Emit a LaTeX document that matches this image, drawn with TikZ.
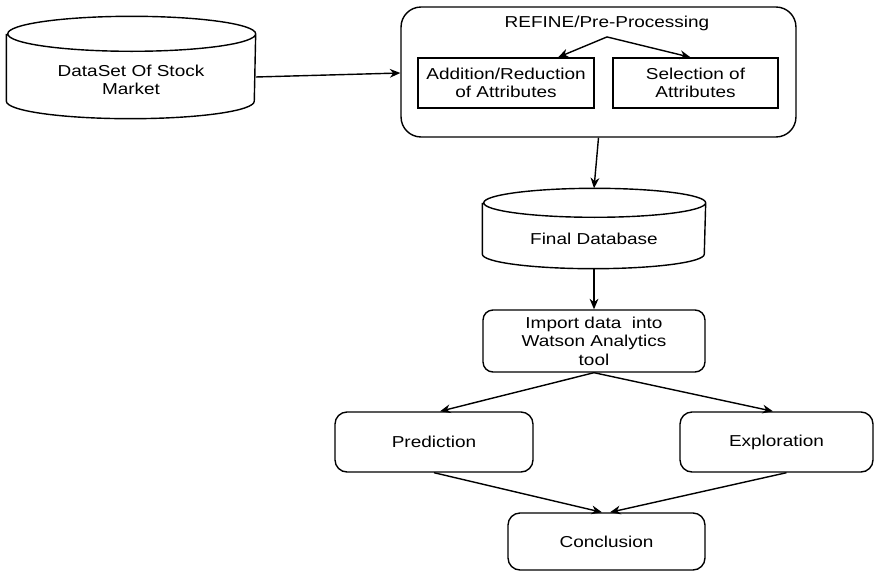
\documentclass[tikz,border=0pt]{standalone}
\usepackage{fontspec}
\setmainfont[FakeStretch=1.2]{Liberation Sans}
\usepackage{tikz}
\usetikzlibrary{arrows.meta, positioning}

% database drum drawn round an empty node: name, x radius, cap radius
\newcommand{\drumshape}[3]{%
  \draw ([yshift=-#3]#1.north west) -- ([yshift=#3]#1.south west)
    arc[start angle=180, end angle=360, x radius=#2, y radius=#3]
    -- ([yshift=-#3]#1.north east)
    arc[start angle=0, end angle=360, x radius=#2, y radius=#3];
}

\begin{document}
\begin{tikzpicture}[x=0.02cm, y=-0.02cm, line width=0.8pt,
  every node/.style={font=\fontsize{9}{10.5}\selectfont, align=center},
  drum/.style={rectangle, inner sep=0pt},
  plainbox/.style={draw, rectangle, minimum height=1cm},
  stagebox/.style={draw, rectangle, rounded corners=0.24cm, minimum height=1.2cm},
  flow/.style={-{Stealth[length=6pt, width=5pt]}}]
  \useasboundingbox (0,0) rectangle (876,571);

  % input data and the refine stage
  \node[drum, minimum width=4.96cm, minimum height=2.02cm] (dataset) at (131,67.5) {};
  \drumshape{dataset}{2.48cm}{0.35cm}
  \node (datasettext) at ([yshift=-0.25cm]dataset.center) {DataSet Of Stock\\Market};
  \node[draw, rectangle, rounded corners=0.4cm, minimum width=7.9cm, minimum height=2.6cm]
    (refine) at (598.5,72) {};
  \node (refinetitle) at (607,23) {REFINE/Pre-Processing};
  \node[plainbox, minimum width=3.52cm] (addred) at (506,83)
    {Addition/Reduction\\of Attributes};
  \node[plainbox, minimum width=3.3cm] (select) at (695.5,83)
    {Selection of\\Attributes};

  % database and analysis
  \node[drum, minimum width=4.44cm, minimum height=1.58cm] (finaldb) at (594,228.5) {};
  \drumshape{finaldb}{2.22cm}{0.29cm}
  \node (finaldbtext) at ([yshift=-0.21cm]finaldb.center) {Final Database};
  \node[stagebox, rounded corners=0.2cm, minimum width=4.44cm, minimum height=1.24cm]
    (import) at (594,341) {Import data\ \ into\\Watson Analytics\\tool};
  \node[stagebox, minimum width=3.96cm] (predict) at (434,442) {Prediction};
  \node[stagebox, minimum width=3.86cm] (explore) at (776.5,442) {Exploration};
  \node[stagebox, minimum width=3.94cm, minimum height=1.14cm] (conclude) at (606.5,541.5)
    {Conclusion};

  \draw[flow] ([yshift=-0.19cm]dataset.east) -- ([yshift=-0.02cm]refine.west);
  \draw[flow] (refinetitle.south) -- ([xshift=1.04cm]addred.north);
  \draw[flow] (refinetitle.south) -- ([xshift=-0.1cm]select.north);
  \draw[flow] (refine.south) -- (finaldb.north);
  \draw[flow] (finaldb.south) -- (import.north);
  \draw[flow] (import.south) -- ([xshift=0.12cm]predict.north);
  \draw[flow] (import.south) -- ([xshift=-0.07cm]explore.north);
  \draw[flow] (predict.south) -- ([xshift=-0.09cm]conclude.north);
  \draw[flow] ([xshift=0.2cm]explore.south) -- ([xshift=0.07cm]conclude.north);
\end{tikzpicture}
\end{document}
